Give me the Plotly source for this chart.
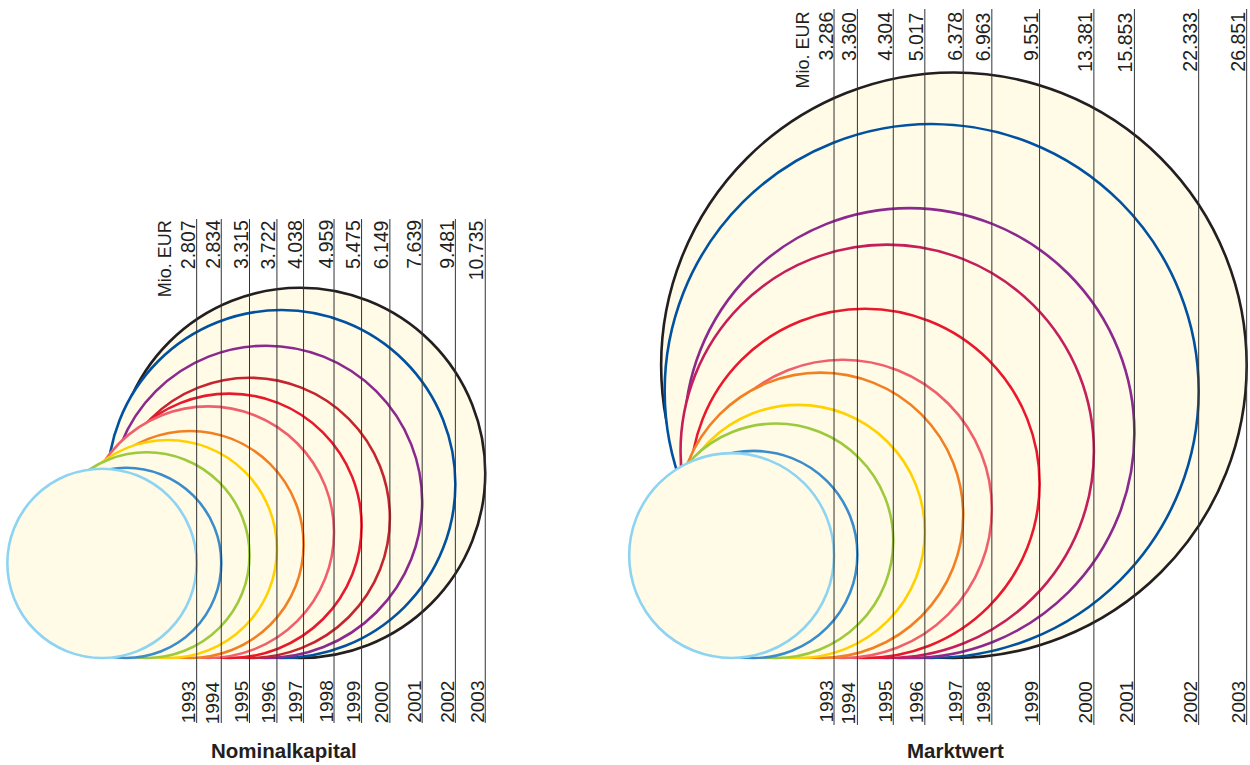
import math
import plotly.graph_objects as go

# ---------------- data ----------------
years = ["1993", "1994", "1995", "1996", "1997", "1998", "1999", "2000", "2001", "2002", "2003"]
nominal_values = [2.807, 2.834, 3.315, 3.722, 4.038, 4.959, 5.475, 6.149, 7.639, 9.481, 10.735]
nominal_labels = ["2.807", "2.834", "3.315", "3.722", "4.038", "4.959", "5.475", "6.149", "7.639", "9.481", "10.735"]
market_values = [3.286, 3.360, 4.304, 5.017, 6.378, 6.963, 9.551, 13.381, 15.853, 22.333, 26.851]
market_labels = ["3.286", "3.360", "4.304", "5.017", "6.378", "6.963", "9.551", "13.381", "15.853", "22.333", "26.851"]
unit_label = "Mio. EUR"
panel_titles = ["Nominalkapital", "Marktwert"]

# ---------------- styles / layout constants ----------------
W, H = 1250, 765
K = 56.5  # pixels per sqrt(Mio. EUR)  (circle area ~ value)
FONT = "Liberation Sans, Arial, Helvetica, sans-serif"
TXT = "#231f20"
FILL = "#fffbe7"
colors_left = ["#8dd3f2", "#3b8ccb", "#9dc93c", "#ffd100", "#f28022", "#f0606c",
               "#e8192c", "#c3262e", "#8b2a8e", "#0052a0", "#231f20"]
colors_right = ["#8dd3f2", "#3b8ccb", "#9dc93c", "#ffd100", "#f28022", "#f0606c",
                "#e8192c", "#c41f5a", "#8b2a8e", "#0052a0", "#231f20"]


def ux(p):  # horizontal pixel -> data units
    return p / K


def uy(p):  # vertical pixel (from top) -> data units
    return (H - p) / K


# layout rule: each circle is shifted right by `step` px per year, pulled back by
# `shrink` times its growth in radius (keeps the large circles compact)
panels = [
    dict(values=nominal_values, labels=nominal_labels, title=panel_titles[0], colors=colors_left,
         base=658, first_cx=102, step=24.4, shrink=0.507, label_top=220, line_top=219,
         line_bot=723, year_top=681, title_x=284),
    dict(values=market_values, labels=market_labels, title=panel_titles[1], colors=colors_right,
         base=658, first_cx=731.6, step=22.23, shrink=0.0, label_top=12, line_top=9,
         line_bot=725, year_top=681, title_x=955),
]

fig = go.Figure()
shapes = []
annotations = []

for p in panels:
    radii = [math.sqrt(v) for v in p["values"]]
    centers = [ux(p["first_cx"] + p["step"] * i) - p["shrink"] * (r - radii[0])
               for i, r in enumerate(radii)]
    base = uy(p["base"])
    right_edges = [c + r for c, r in zip(centers, radii)]

    # circles: largest first so the smaller ones cover them
    for i in reversed(range(len(radii))):
        c, r = centers[i], radii[i]
        shapes.append(dict(type="circle", xref="x", yref="y", layer="below",
                           x0=c - r, x1=c + r, y0=base, y1=base + 2 * r,
                           fillcolor=FILL, line=dict(color=p["colors"][i], width=2.6)))

    # vertical reference lines at the right edge of each circle
    lx, ly = [], []
    for xr in right_edges:
        lx += [xr, xr, None]
        ly += [uy(p["line_top"]), uy(p["line_bot"]), None]
    fig.add_trace(go.Scatter(x=lx, y=ly, mode="lines", hoverinfo="skip",
                             line=dict(color="#333333", width=1), showlegend=False))

    # value labels (top) and year labels (bottom)
    for xr, lab, yr in zip(right_edges, p["labels"], years):
        annotations.append(dict(x=xr, y=uy(p["label_top"]), xref="x", yref="y", text=lab,
                                textangle=-90, xanchor="right", yanchor="top", showarrow=False,
                                borderpad=0, borderwidth=0, xshift=2,
                                font=dict(family=FONT, size=19.5, color=TXT)))
        annotations.append(dict(x=xr, y=uy(p["year_top"]), xref="x", yref="y", text=yr,
                                textangle=-90, xanchor="right", yanchor="top", showarrow=False,
                                borderpad=0, borderwidth=0, xshift=2,
                                font=dict(family=FONT, size=19, color=TXT)))
    annotations.append(dict(x=right_edges[0], y=uy(p["label_top"]), xref="x", yref="y",
                            text=unit_label, textangle=-90, xanchor="right", yanchor="top",
                            showarrow=False, borderpad=0, borderwidth=0, xshift=-22,
                            font=dict(family=FONT, size=18, color=TXT)))
    annotations.append(dict(x=ux(p["title_x"]), y=uy(750), xref="x", yref="y",
                            text="<b>" + p["title"] + "</b>", xanchor="center", yanchor="middle",
                            showarrow=False, font=dict(family=FONT, size=20.5, color=TXT)))

fig.update_layout(
    width=W, height=H, autosize=False,
    margin=dict(l=0, r=0, t=0, b=0, pad=0),
    paper_bgcolor="white", plot_bgcolor="white",
    xaxis=dict(range=[0, W / K], visible=False, fixedrange=True),
    yaxis=dict(range=[0, H / K], visible=False, fixedrange=True),
    shapes=shapes, annotations=annotations, showlegend=False,
)

fig.write_html("out.html", config={"displayModeBar": False},
               post_script="document.body.style.margin='0';document.body.style.overflow='hidden';")
